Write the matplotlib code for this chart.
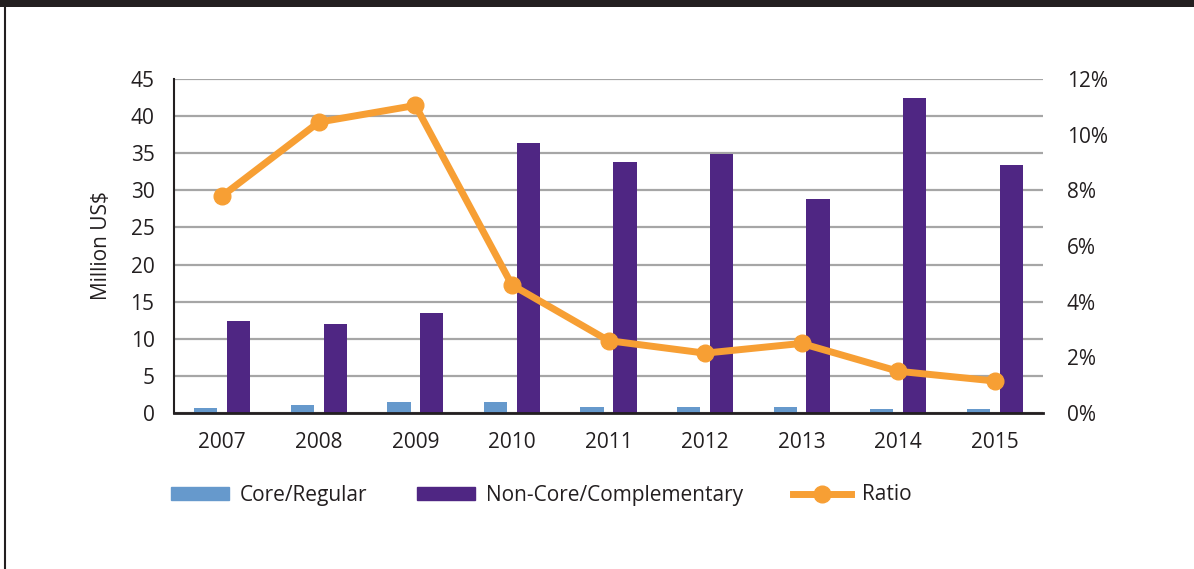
import matplotlib
matplotlib.use("Agg")
import matplotlib.pyplot as plt
import numpy as np
from matplotlib.lines import Line2D
from matplotlib.patches import Patch

plt.rcParams['font.family'] = ['Open Sans', 'DejaVu Sans']

years = ["2007", "2008", "2009", "2010", "2011", "2012", "2013", "2014", "2015"]
core = [0.7, 1.1, 1.45, 1.45, 0.8, 0.8, 0.8, 0.5, 0.5]
noncore = [12.4, 12.0, 13.5, 36.4, 33.8, 34.9, 28.8, 42.4, 33.4]
ratio = [7.8, 10.45, 11.05, 4.6, 2.6, 2.15, 2.5, 1.5, 1.15]  # percent

core_col = "#6699cc"
noncore_col = "#4f2683"
ratio_col = "#f79f34"
text_col = "#231f20"

fig = plt.figure(figsize=(11.94, 5.69), dpi=100)

# page frame: dark band on top, thin rule on the left
fig.add_artist(plt.Rectangle((0, 1 - 7/569), 1, 7/569, transform=fig.transFigure,
                             color="#231f20", lw=0))
fig.add_artist(Line2D([4.5/1194, 4.5/1194], [0, 1 - 7/569], transform=fig.transFigure,
                      color="#231f20", lw=1.5))

ax = fig.add_axes([174/1194, 1 - 413/569, (1043 - 174)/1194, (413 - 79)/569])
x = np.arange(len(years))
w = 0.24
ax.bar(x - 0.17, core, w, color=core_col, zorder=2)
ax.bar(x + 0.17, noncore, w, color=noncore_col, zorder=2)

ax.set_xlim(-0.5, len(years) - 0.5)
ax.set_ylim(0, 45)
ax.set_yticks(range(0, 46, 5))
ax.set_xticks(x)
ax.set_xticklabels(years)
ax.yaxis.grid(True, color="#a6a6a6", lw=1.6, zorder=0)
ax.set_axisbelow(True)
for s in ["top", "right"]:
    ax.spines[s].set_visible(False)
ax.spines["left"].set_color(text_col)
ax.spines["left"].set_linewidth(1.5)
ax.spines["bottom"].set_color(text_col)
ax.spines["bottom"].set_linewidth(2)
ax.tick_params(axis="both", length=0, labelsize=15, colors=text_col)
ax.tick_params(axis="y", pad=14)
ax.tick_params(axis="x", pad=14)
ax.set_ylabel("Million US$", fontsize=15, color=text_col, labelpad=13)

ax2 = ax.twinx()
ax2.plot(x, ratio, color=ratio_col, lw=5, marker="o", ms=12, zorder=3,
         solid_joinstyle="round")
ax2.set_ylim(0, 12)
ax2.set_yticks(range(0, 13, 2))
ax2.set_yticklabels([f"{v}%" for v in range(0, 13, 2)])
for s in ["top", "right", "left", "bottom"]:
    ax2.spines[s].set_visible(False)
ax2.tick_params(axis="y", length=0, labelsize=15, colors=text_col, pad=17)

handles = [
    Patch(color=core_col, label="Core/Regular"),
    Patch(color=noncore_col, label="Non-Core/Complementary"),
    Line2D([0], [0], color=ratio_col, lw=5, marker="o", ms=12, label="Ratio"),
]
fig.legend(handles=handles, loc="center", bbox_to_anchor=(541/1194, 1 - 495/569),
           ncol=3, frameon=False, fontsize=15, handlelength=2.8, handleheight=0.6,
           handletextpad=0.5, columnspacing=2.4, labelcolor=text_col)

fig.savefig("out.png", dpi=100)
